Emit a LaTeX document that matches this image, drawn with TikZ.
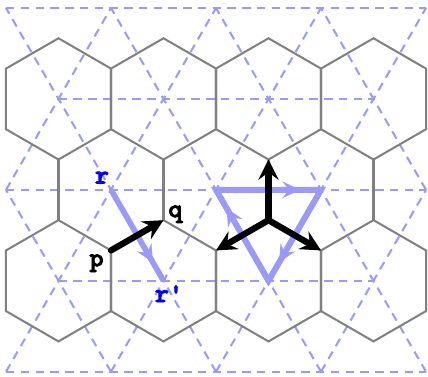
\documentclass[tikz,border=0pt]{standalone}
\usepackage{fontspec}
\newfontfamily\labelfont{lmmonolt10-bold}[Extension=.otf,FakeBold=3]
\usetikzlibrary{arrows.meta,decorations.markings}
\definecolor{hexgray}{HTML}{808080}
\definecolor{latblue}{HTML}{9999FF}
\definecolor{labelblue}{HTML}{0000FF}

\begin{document}
\begin{tikzpicture}[x=2cm,y=2cm,
      hexline/.style={draw=hexgray,line width=1.1pt},
      latline/.style={draw=latblue,line width=1.1pt,dash pattern=on 4.6pt off 3.4pt},
      hop/.style={-{Stealth[length=11pt,width=11pt,inset=4pt]},line width=3.4pt,color=black,line cap=round},
      flowline/.style={line width=3.1pt,color=latblue},
      flowtip/.style={postaction={decorate},decoration={markings,mark=at position #1 with {\arrow{Stealth[length=9.5pt,width=9pt,inset=3.5pt]}}}},
      lbl/.style={font=\fontsize{14.5}{16}\selectfont\labelfont\bfseries,inner sep=0pt}
    ]
      \useasboundingbox (-0.057,-0.048) rectangle (4.019,3.540);
      % triangular lattice
      \draw[latline] (0,0) -- (4,0);
      \draw[latline] (0.5,0.866) -- (3.5,0.866);
      \draw[latline] (0,1.732) -- (4,1.732);
      \draw[latline] (0.5,2.598) -- (3.5,2.598);
      \draw[latline] (0,3.464) -- (4,3.464);
      \draw[latline] (0,1.732) -- (1,3.464);
      \draw[latline] (0,0) -- (2,3.464);
      \draw[latline] (1,0) -- (3,3.464);
      \draw[latline] (2,0) -- (4,3.464);
      \draw[latline] (3,0) -- (4,1.732);
      \draw[latline] (4,1.732) -- (3,3.464);
      \draw[latline] (4,0) -- (2,3.464);
      \draw[latline] (3,0) -- (1,3.464);
      \draw[latline] (2,0) -- (0,3.464);
      \draw[latline] (1,0) -- (0,1.732);
      % honeycomb
      \draw[hexline] (0.5,0.866) +(90:0.5774) -- +(150:0.5774) -- +(210:0.5774) -- +(270:0.5774) -- +(330:0.5774) -- +(30:0.5774) -- cycle;
      \draw[hexline] (1.5,0.866) +(90:0.5774) -- +(150:0.5774) -- +(210:0.5774) -- +(270:0.5774) -- +(330:0.5774) -- +(30:0.5774) -- cycle;
      \draw[hexline] (2.5,0.866) +(90:0.5774) -- +(150:0.5774) -- +(210:0.5774) -- +(270:0.5774) -- +(330:0.5774) -- +(30:0.5774) -- cycle;
      \draw[hexline] (3.5,0.866) +(90:0.5774) -- +(150:0.5774) -- +(210:0.5774) -- +(270:0.5774) -- +(330:0.5774) -- +(30:0.5774) -- cycle;
      \draw[hexline] (0.5,2.598) +(90:0.5774) -- +(150:0.5774) -- +(210:0.5774) -- +(270:0.5774) -- +(330:0.5774) -- +(30:0.5774) -- cycle;
      \draw[hexline] (1.5,2.598) +(90:0.5774) -- +(150:0.5774) -- +(210:0.5774) -- +(270:0.5774) -- +(330:0.5774) -- +(30:0.5774) -- cycle;
      \draw[hexline] (2.5,2.598) +(90:0.5774) -- +(150:0.5774) -- +(210:0.5774) -- +(270:0.5774) -- +(330:0.5774) -- +(30:0.5774) -- cycle;
      \draw[hexline] (3.5,2.598) +(90:0.5774) -- +(150:0.5774) -- +(210:0.5774) -- +(270:0.5774) -- +(330:0.5774) -- +(30:0.5774) -- cycle;
      \draw[hexline] (0.5,1.443) -- (0.5,2.021);
      \draw[hexline] (1.5,1.443) -- (1.5,2.021);
      \draw[hexline] (2.5,1.443) -- (2.5,2.021);
      \draw[hexline] (3.5,1.443) -- (3.5,2.021);
      % points
      \coordinate (p) at (1,1.155);
      \coordinate (q) at (1.5,1.443);
      \coordinate (r) at (1,1.732);
      \coordinate (rp) at (1.5,0.866);
      \coordinate (hub) at (2.5,1.443);
      \coordinate (hubup) at (2.5,2.021);
      \coordinate (hubleft) at (2,1.155);
      \coordinate (hubright) at (3,1.155);
      \coordinate (ta) at (2,1.732);
      \coordinate (tb) at (3,1.732);
      \coordinate (tc) at (2.5,0.866);
      % blue moves
      \draw[flowline,flowtip=0.8] (r) -- (rp);
      \draw[flowline] (ta) -- (tb) -- (tc) -- cycle;
      \draw[flowline,flowtip=0.8] (ta) -- (tb);
      \draw[flowline,flowtip=0.8] (tb) -- (tc);
      \draw[flowline,flowtip=0.8] (tc) -- (ta);
      % black bonds
      \draw[hop] (p) -- (q);
      \draw[hop] (hub) -- (hubup);
      \draw[hop] (hub) -- (hubleft);
      \draw[hop] (hub) -- (hubright);
      \node[lbl] (plab) at (0.862,1.033) {p};
      \node[lbl] (qlab) at (1.614,1.500) {q};
      \node[lbl,text=labelblue] (rlab) at (0.914,1.848) {r};
      \node[lbl,text=labelblue] (rplab) at (1.552,0.743) {r'};
    \end{tikzpicture}
\end{document}
